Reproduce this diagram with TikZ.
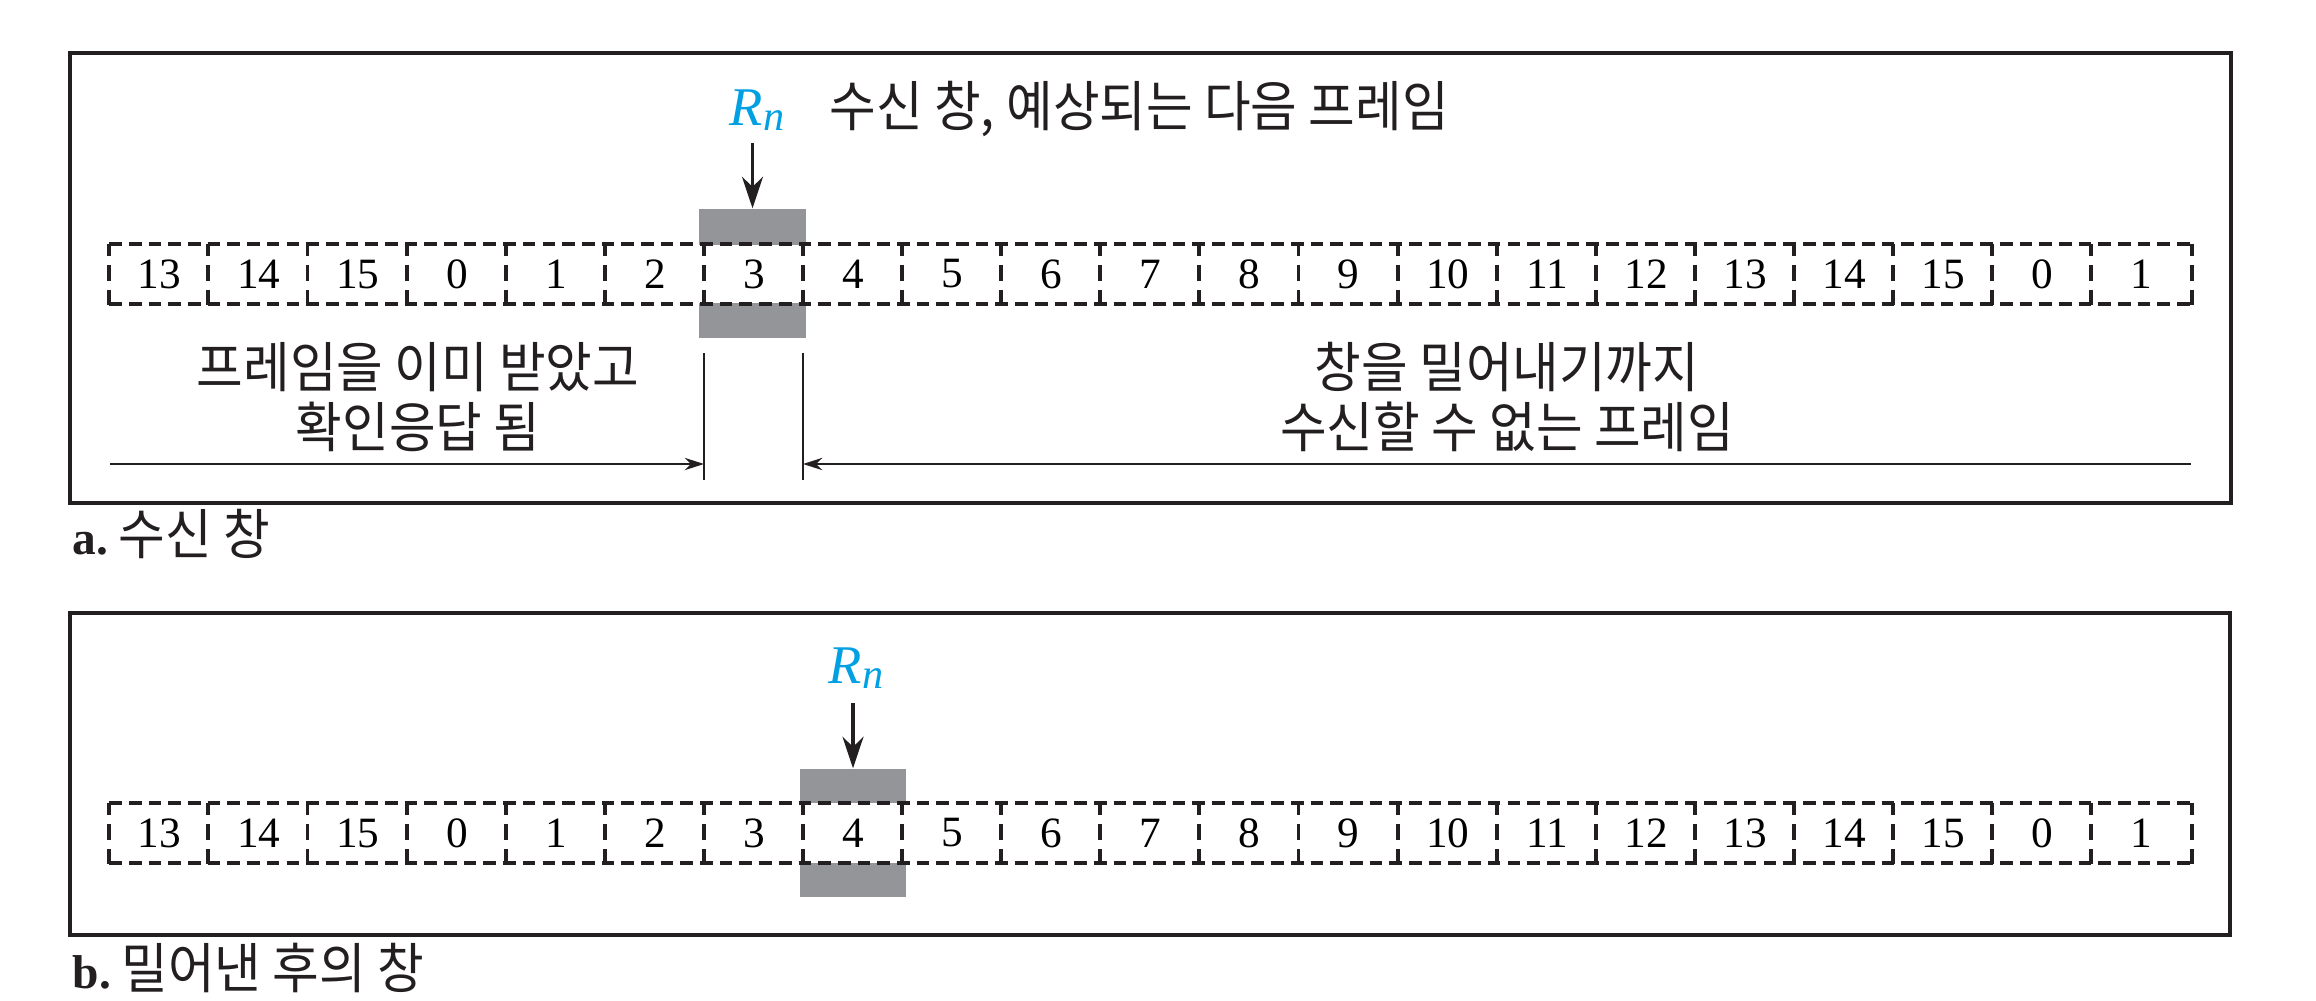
\documentclass[tikz,border=0pt]{standalone}
\usepackage{fontspec}
\setmainfont{Liberation Serif}
\newfontfamily\kr[FakeStretch=0.93]{Noto Sans CJK KR}
\usetikzlibrary{arrows.meta}
\definecolor{rnblue}{RGB}{0,160,226}
\definecolor{wingray}{RGB}{147,149,152}
\definecolor{ink}{RGB}{35,31,32}
\begin{document}
\begin{tikzpicture}[x=0.01cm,y=-0.01cm,
  frame/.style={draw=ink,line width=1.2pt},
  cell/.style={draw=none,minimum width=0.991cm,minimum height=0.59cm,inner sep=0pt,
    font=\fontsize{12.3}{12}\selectfont},
  hdash/.style={draw=ink,line width=1.1pt,dash pattern=on 3.6pt off 2pt},
  vdash/.style={draw=ink,line width=1.1pt,dash pattern=on 3.4pt off 2.5pt on 4.7pt off 2.5pt on 4pt off 0pt},
  graybar/.style={fill=wingray,draw=none,inner sep=0pt,minimum width=1.07cm},
  krtext/.style={font=\kr\fontsize{15.5}{17}\selectfont,inner sep=0pt,text=ink},
  rnlabel/.style={inner sep=0pt,text=rnblue,font=\fontsize{15.5}{15}\selectfont\itshape},
  ptr/.style={draw=ink,line width=0.9pt,-{Stealth[length=9pt,width=6pt]}},
  span/.style={draw=ink,line width=0.6pt,-{Stealth[length=5.5pt,width=3.5pt]}},
  tick/.style={draw=ink,line width=0.6pt},
  caption/.style={inner sep=0pt,anchor=base west,text=ink}
]
\useasboundingbox (0,0) rectangle (2316,1000);

% frames
\node[frame,minimum width=21.59cm,minimum height=4.50cm,inner sep=0pt] (fa) at (1150.5,278) {};
\node[frame,minimum width=21.58cm,minimum height=3.22cm,inner sep=0pt] (fb) at (1150,774) {};

% gray window bars
\node[graybar,minimum height=0.36cm] (gat) at (752.5,227) {};
\node[graybar,minimum height=0.35cm] (gab) at (752.5,320.5) {};
\node[graybar,minimum width=1.06cm,minimum height=0.34cm] (gbt) at (853,786) {};
\node[graybar,minimum width=1.06cm,minimum height=0.34cm] (gbb) at (853,880) {};

% cells
\foreach \lab [count=\i from 0] in {13,14,15,0,1,2,3,4,5,6,7,8,9,10,11,12,13,14,15,0,1}{
  \node[cell] (a\i) at ({110+99.1*(\i+0.5)},274) {\lab};
  \node[cell] (b\i) at ({110+99.1*(\i+0.5)},833) {\lab};
  \draw[vdash] (a\i.north west) -- (a\i.south west);
  \draw[vdash] (b\i.north west) -- (b\i.south west);
}
\draw[vdash] (a20.north east) -- (a20.south east);
\draw[vdash] (b20.north east) -- (b20.south east);
\draw[hdash] (a0.north west) -- (a20.north east);
\draw[hdash] (a0.south west) -- (a20.south east);
\draw[hdash] (b0.north west) -- (b20.north east);
\draw[hdash] (b0.south west) -- (b20.south east);

% (a) pointer
\node[rnlabel,anchor=base] (rna) at (757,125) {R\raisebox{-1.5pt}{\fontsize{12}{12}\selectfont n}};
\coordinate (rnas) at (752.5,143);
\draw[ptr] (rnas) -- (gat.north);
\node[krtext,anchor=base west] (ta) at (829,126) {수신 창, 예상되는 다음 프레임};

% (a) spans
\coordinate (v1t) at (704,353); \coordinate (v1b) at (704,480);
\coordinate (v2t) at (803,353); \coordinate (v2b) at (803,480);
\draw[tick] (v1t) -- (v1b);
\draw[tick] (v2t) -- (v2b);
\coordinate (lstart) at (110,464); \coordinate (lend) at (704,464);
\coordinate (rstart) at (2191,464); \coordinate (rend) at (803,464);
\draw[span] (lstart) -- (lend);
\draw[span] (rstart) -- (rend);
\node[krtext,align=center] (lt) at (418,397) {프레임을 이미 받았고\\확인응답 됨};
\node[krtext,align=center] (rt) at (1507,397) {창을 밀어내기까지\\수신할 수 없는 프레임};

% (b) pointer
\node[rnlabel,anchor=base] (rnb) at (856,683) {R\raisebox{-1.5pt}{\fontsize{12}{12}\selectfont n}};
\coordinate (rnbs) at (853,703);
\draw[ptr] (rnbs) -- (gbt.north);

% captions
\node[caption] (capa) at (72,554) {\fontsize{13.5}{13}\selectfont\bfseries a.\hspace{3pt}{\kr\mdseries\fontsize{15.5}{17}\selectfont 수신 창}};
\node[caption] (capb) at (72,988) {\fontsize{13.5}{13}\selectfont\bfseries b.\hspace{3pt}{\kr\mdseries\fontsize{15.5}{17}\selectfont 밀어낸 후의 창}};
\end{tikzpicture}
\end{document}
